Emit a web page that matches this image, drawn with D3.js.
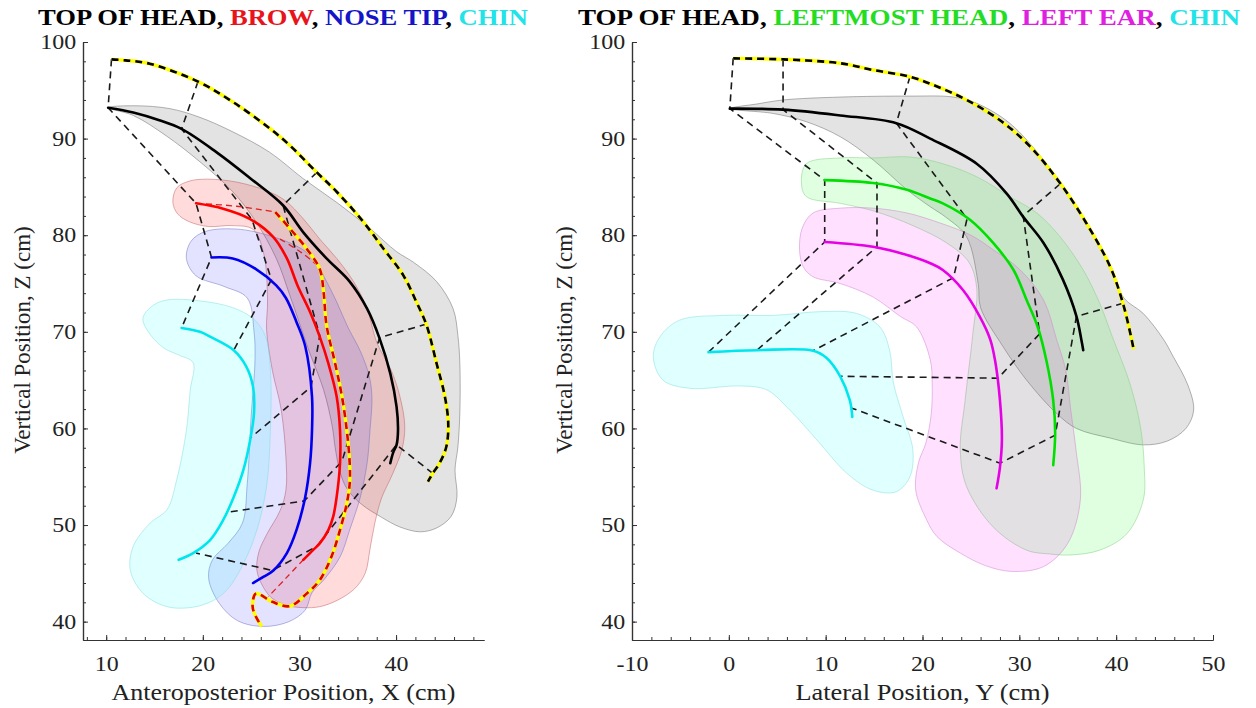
<!DOCTYPE html>
<html><head><meta charset="utf-8">
<script src="https://cdn.jsdelivr.net/npm/d3@7/dist/d3.min.js"></script>
<style>
html,body{margin:0;padding:0;background:#fff;}
svg{display:block;}
svg text{font-family:"Liberation Serif","Times New Roman",serif;}
</style></head><body>
<svg id="chart" width="1256" height="708" font-family="Liberation Serif, serif"></svg>
<script>
// ---------------- DATA ----------------
const leftXTicks = [10, 20, 30, 40];
const rightYTicks = [-10, 0, 10, 20, 30, 40, 50];
const zTicks = [40, 50, 60, 70, 80, 90, 100];
const leftTitleWords = ["TOP OF HEAD", "BROW", "NOSE TIP", "CHIN"];
const rightTitleWords = ["TOP OF HEAD", "LEFTMOST HEAD", "LEFT EAR", "CHIN"];
const leftXLabel = "Anteroposterior Position, X (cm)";
const rightXLabel = "Lateral Position, Y (cm)";
const zLabel = "Vertical Position, Z (cm)";

// Left panel: [X, Z]
const leftHead = [[10.2,93.2],[12.8,92.7],[15.5,91.9],[17.8,91.0],[21.4,88.6],[24.9,85.9],[28.3,83.1],[30.4,80.3],[32.8,77.6],[35.2,75.2],[37.0,72.4],[38.3,69.3],[39.4,65.7],[40.05,62.25],[40.2,59.8],[40.05,58.3],[39.7,57.5],[39.4,56.4]];
const leftHeadOuter = [[10.55,98.2],[12.0,98.1],[14.5,97.75],[19.5,95.9],[23.1,93.8],[27.0,91.0],[29.0,89.3],[31.8,86.5],[33.85,84.5],[36.6,81.4],[38.7,78.6],[40.75,75.85],[42.1,73.1],[43.15,70.7],[44.2,66.7],[45.05,63.3],[45.4,60.5],[45.2,58.1],[44.5,56.4],[43.8,55.35],[43.3,54.5]];
const leftBrow = [[19.3,83.3],[22.1,82.75],[24.85,81.7],[27.3,79.8],[28.7,77.6],[29.8,74.8],[31.1,72.05],[32.1,69.5],[33.0,66.7],[33.85,63.3],[34.2,59.8],[34.2,56.4],[33.85,52.9],[33.5,50.9],[33.0,49.5],[32.1,48.1],[31.4,47.4],[30.4,46.4]];
const leftBrowAlt = [[27.5,82.4],[29.0,80.7],[30.75,78.6],[32.1,76.5],[32.5,74.1],[32.8,70.7],[33.7,66.7],[34.4,63.3],[34.9,59.8],[35.2,56.4],[35.2,54.3],[34.9,52.25],[34.2,49.5],[33.3,46.7],[32.1,44.3],[30.75,42.9],[29.0,41.6],[27.2,42.05],[25.5,42.9],[25.15,41.6],[25.5,40.5],[26.1,39.5]];
const leftBrowThin = [
  [[19.3,83.3],[23.5,83.0],[27.5,82.4]],
  [[28.0,79.6],[30.2,78.2],[32.1,76.7]],
  [[30.4,46.4],[28.6,44.5],[26.8,42.6]]
];
const leftNose = [[20.9,77.7],[23.1,77.6],[25.5,76.5],[27.6,74.8],[28.6,73.5],[29.7,71.0],[30.6,68.5],[31.3,63.3],[31.3,59.8],[31.1,56.4],[30.6,52.9],[29.7,49.5],[28.7,47.1],[27.3,45.3],[26.3,44.65],[25.2,44.0]];
const leftChin = [[17.8,70.4],[19.7,70.0],[20.75,69.5],[23.2,68.1],[24.5,66.4],[25.2,64.3],[25.3,61.6],[24.9,58.8],[24.2,55.7],[23.2,52.9],[22.1,50.5],[20.75,48.45],[19.0,47.1],[17.5,46.4]];
const leftSync = [
  [[10.55,98.2],[10.2,93.2],[19.3,83.3],[20.9,77.7],[17.8,70.4]],
  [[19.5,95.9],[17.8,91.0],[25.1,81.6],[27.1,75.4],[23.2,68.1]],
  [[31.8,86.5],[28.3,83.1],[32.1,69.6],[31.2,64.3],[24.9,59.0]],
  [[43.15,70.8],[38.3,69.4],[34.4,56.6],[30.5,52.5],[22.4,51.3]],
  [[43.8,55.35],[40.05,58.3],[31.8,47.8],[27.2,45.3],[19.3,47.1]]
];
const leftHeadRegion = [[10.2,93.2],[13,93.4],[16.6,93.1],[19.7,92.2],[23.1,90.7],[26.9,88.6],[30.4,85.85],[33.85,83.4],[37.3,80.7],[40.05,78.3],[41.8,77.2],[44.2,75.2],[45.9,72.4],[46.4,69.6],[46.6,66.7],[46.6,61.6],[46.4,58.1],[46.1,55.7],[46.3,52.9],[45.7,50.9],[44.2,49.7],[42.5,49.3],[40.4,49.8],[38.5,50.8],[36.3,52.25],[34.9,53.8],[34.2,55.5],[33.7,58],[33.4,60.2],[32.5,64],[31.0,68],[29.0,73.8],[27.6,77.6],[25.5,81.4],[23.1,84.5],[19.7,87.6],[16.2,90.3],[12.8,92.4]];
const leftBrowRegion = [[16.9,83.4],[17.3,84.9],[18.6,85.6],[20.5,85.8],[23.5,85.5],[26.6,84.6],[28.5,83.6],[30.4,81.7],[32.1,79.6],[33.85,77.6],[35.6,75.2],[37.0,72.4],[38.0,68.9],[39.5,66],[40.4,63.3],[40.9,60.2],[40.6,57.8],[39.6,55.2],[38.5,52.8],[37.8,50.2],[37.3,47.5],[36.8,45.0],[35.7,43.4],[33.9,42.2],[32.1,41.55],[30.4,41.45],[28.6,41.7],[27.2,42.4],[26.3,43.5],[25.6,45.3],[25.8,47.2],[26.6,49],[28.0,51.5],[28.6,53.6],[28.6,57],[28.1,62],[27.2,66],[26.6,70.2],[26.7,73.3],[26.3,78.1],[25.2,80.6],[23.0,81.0],[20.6,80.9],[18.6,81.4],[17.4,82.2]];
const leftNoseRegion = [[18.3,77.6],[18.8,79.4],[20.3,80.4],[23.9,80.6],[28.0,79.6],[30.2,78.6],[31.5,77.5],[32.6,75.6],[33.85,73.1],[35.0,70.5],[36.3,68],[37.2,65.5],[37.5,63.3],[37.3,59.8],[37.0,56.4],[36.3,52.9],[35.2,49.5],[34.2,46.7],[32.5,44.3],[31.3,43.0],[30.6,41.2],[28.9,40.0],[26.3,39.5],[23.6,40.1],[21.7,41.9],[20.6,44.5],[21.0,46.4],[22.6,48.1],[24.1,50.2],[24.6,54.3],[25.0,61.2],[25.4,67.1],[25.3,70],[24.6,73.5],[22.2,74.7],[19.3,75.8]];
const leftChinRegion = [[13.8,71.4],[14.8,72.7],[16.3,73.3],[19.7,73.2],[23.1,72.5],[25.3,71.3],[26.5,69.5],[27.0,66],[27.0,60],[26.6,54],[25.6,49.5],[24.2,46],[22.6,43.4],[21.1,42.2],[19.0,41.5],[16.3,41.55],[13.85,42.9],[12.5,45.3],[12.8,47.8],[14.55,50.2],[16.3,51.6],[17.3,54.7],[18.3,59.8],[18.7,64],[19.0,66.8],[17.5,67.6],[16.0,68.3],[14.5,69.8]];

// Right panel: [Y, Z]
const rightHead = [[0.1,93.1],[5.6,93.0],[11.5,92.4],[17.3,91.6],[20.8,90.0],[25.6,87.4],[28.7,84.3],[30.4,81.9],[32.5,79.2],[34.5,75.4],[35.9,71.6],[36.4,69.2],[36.6,68.1]];
const rightHeadOuter = [[0.45,98.3],[5.6,98.2],[11.5,97.8],[14.9,97.1],[18.7,96.4],[21.5,95.4],[24.55,94.0],[28.0,91.9],[31.1,89.2],[34.2,85.4],[36.95,81.2],[39.4,76.7],[40.7,72.95],[41.6,69.2],[41.8,68.2]];
const rightLeftmost = [[9.9,85.7],[14.9,85.4],[18.4,84.7],[20.8,83.8],[22.1,83.3],[24.9,81.6],[27.3,79.2],[29.4,76.4],[30.75,73.3],[31.9,70.5],[32.8,67.0],[33.5,62.9],[33.7,59.5],[33.5,56.2]];
const rightEar = [[9.9,79.3],[14.9,78.8],[18.4,77.95],[20.8,77.1],[22.1,76.4],[24.2,74.3],[25.9,71.6],[27.0,69.2],[27.5,67.0],[28.0,62.9],[28.2,58.8],[28.0,56.0],[27.65,53.8]];
const rightChin = [[-2.1,67.9],[2.9,68.1],[8.7,68.05],[10.1,67.3],[11.5,65.4],[12.5,62.9],[12.75,61.2]];
const rightSync = [
  [[0.45,98.3],[0.1,93.1],[9.9,85.7],[9.9,79.3],[-2.1,67.9]],
  [[5.6,98.2],[5.6,93.0],[15.3,85.4],[15.3,78.8],[2.9,68.1]],
  [[18.7,96.4],[17.3,91.6],[24.6,81.7],[23.2,75.6],[8.7,68.05]],
  [[34.2,85.3],[30.4,82.0],[32.1,69.8],[27.8,65.2],[11.5,65.4]],
  [[40.7,72.95],[35.9,71.6],[33.7,59.3],[28.0,56.4],[12.7,62.1]]
];
const rightHeadRegion = [[0.1,93.1],[3,93.6],[5.6,94.0],[11.5,94.3],[18.7,94.4],[23.2,94.3],[25.6,93.65],[29.0,91.6],[32.5,87.8],[34.4,85.2],[37.0,81.3],[39.4,76.9],[40.8,73.5],[42.8,71.9],[44.9,69.2],[45.8,67.6],[47.4,64.5],[48.0,61.9],[47.2,60.0],[45.3,58.7],[42.8,58.3],[39.4,59.0],[35.9,60.0],[33.85,61.55],[30.75,65.0],[28.3,68.5],[26.0,72.5],[25.75,75.0],[24.55,79.85],[22.5,81.8],[20.8,82.95],[18.4,84.7],[14.9,87.8],[11.5,90.2],[8.0,91.75],[4.6,92.6]];
const rightLeftmostRegion = [[7.5,85.4],[8.0,87.4],[11.5,88.0],[14.9,88.0],[18.7,88.1],[22.1,87.4],[25.6,86.05],[29.0,84.0],[31.8,82.3],[34.2,79.85],[36.6,76.4],[38.3,72.95],[39.6,69.5],[41.4,64.7],[42.5,60.2],[42.9,56.0],[42.8,52.6],[41.1,49.1],[38.3,47.4],[35.2,46.9],[33.2,47.0],[30.75,47.4],[27.3,49.8],[24.55,54.0],[23.9,57.8],[24.4,62.9],[25.2,69.8],[25.6,74.5],[24.8,77.2],[22.5,79.2],[19,81],[15,82.5],[11.5,83.3],[8.0,84.0]];
const rightEarRegion = [[7.3,78.5],[7.6,80.8],[8.7,82.3],[11.5,82.8],[14.9,82.8],[18.4,82.3],[22,81.2],[25,80],[27.3,78.5],[30.1,76.4],[32.5,73.3],[33.85,69.2],[34.8,66],[35.3,62],[35.85,57.8],[36.3,52.6],[35.0,48.1],[32.5,45.7],[29.2,45.2],[26.5,45.8],[23.9,47.1],[21.5,48.8],[20.4,50.6],[19.3,53.6],[19.6,56.5],[20.35,58.5],[20.9,61.5],[21.0,64.7],[20.8,67.1],[19.4,70.5],[17.7,71.6],[14.9,73.6],[11.5,75.0],[8.7,75.7],[7.7,76.7]];
const rightChinRegion = [[-7.8,67.4],[-7.1,69.5],[-5.1,71.2],[-0.6,71.7],[4.6,71.7],[9.7,72.1],[13.2,71.9],[15.6,70.5],[16.6,68.1],[17.0,64.7],[18.0,61.2],[19.0,57.8],[18.7,55.0],[17.3,53.45],[14.9,53.6],[12.2,55.35],[9.1,58.8],[6.3,61.9],[3.9,64.0],[1.1,64.4],[-4.0,64.15],[-6.8,65.0]];

// ---------------- STYLE / LAYOUT ----------------
const C = {
  black:"#000000", red:"#ff0000", blue:"#0000f0", cyan:"#00e6ee", green:"#00e000", magenta:"#e600e6",
  tRed:"#e8141c", tBlue:"#1414c8", tCyan:"#22e4e8", tGreen:"#22dd22", tMag:"#e020e0",
  yellow:"#ffff00", dash:"#1a1a1a", axis:"#333333", text:"#222222"
};
const regionStyle = {
  gray:{fill:"#808080",op:0.22,stroke:"#6a6a6a"},
  red:{fill:"#ff2020",op:0.16,stroke:"#c06060"},
  blue:{fill:"#2a2aff",op:0.13,stroke:"#7070c0"},
  cyan:{fill:"#00ffff",op:0.12,stroke:"#80dede"},
  green:{fill:"#00ff00",op:0.12,stroke:"#80d080"},
  pink:{fill:"#ff00ff",op:0.12,stroke:"#d080d0"}
};
const SERIF = "Liberation Serif, Times New Roman, serif";
const TEXT_STRETCH = 1.14;

const svg = d3.select("#chart");
const zScale = d3.scaleLinear().domain([38.1, 100]).range([640, 42]);
const xLeft = d3.scaleLinear().domain([7.6, 49.1]).range([83, 484]);
const xRight = d3.scaleLinear().domain([-10, 50]).range([632, 1213]);

function drawPanel(xs, o) {
  const g = svg.append("g");
  const smooth = d3.line().x(d=>xs(d[0])).y(d=>zScale(d[1])).curve(d3.curveCatmullRom.alpha(0.5));
  const straight = d3.line().x(d=>xs(d[0])).y(d=>zScale(d[1]));
  const closed = d3.line().x(d=>xs(d[0])).y(d=>zScale(d[1])).curve(d3.curveCatmullRomClosed.alpha(0.5));

  // regions
  o.regions.forEach(([pts, st]) => {
    g.append("path").attr("d", closed(pts))
      .attr("fill", st.fill).attr("fill-opacity", st.op)
      .attr("stroke", st.stroke).attr("stroke-opacity", 0.5).attr("stroke-width", 1);
  });

  // axes
  const fmt = d => String(d);
  const xAxisMajor = d3.axisBottom(xs).tickValues(o.xTicks).tickSizeInner(-5).tickSizeOuter(0).tickPadding(16).tickFormat(fmt);
  const xAxisMinor = d3.axisBottom(xs).tickValues(o.xMinor).tickSizeInner(-3).tickSizeOuter(0).tickFormat("");
  const zAxisMajor = d3.axisLeft(zScale).tickValues(zTicks).tickSizeInner(-5).tickSizeOuter(0).tickPadding(6).tickFormat(fmt);
  const zAxisMinor = d3.axisLeft(zScale).tickValues(d3.range(40, 101, 2)).tickSizeInner(-3).tickSizeOuter(0).tickFormat("");
  const gx = g.append("g").attr("transform","translate(0,640)");
  gx.call(xAxisMinor); gx.append("g").call(xAxisMajor);
  const gz = g.append("g").attr("transform",`translate(${xs.range()[0]},0)`);
  gz.call(zAxisMinor); gz.append("g").call(zAxisMajor);
  [gx, gz].forEach(a => a.attr("font-family", SERIF).selectAll("g").attr("font-family", SERIF));
  g.selectAll(".domain").attr("stroke", C.axis).attr("stroke-width", 1.2);
  g.selectAll(".tick line").attr("stroke", C.axis).attr("stroke-width", 1);
  g.selectAll(".tick text").attr("font-family", SERIF).attr("font-size", 21).attr("fill", C.text)
    .attr("transform", `scale(${TEXT_STRETCH},1)`);

  // sync dashed lines
  o.sync.forEach(pts => {
    g.append("path").attr("d", straight(pts)).attr("fill","none")
      .attr("stroke", C.dash).attr("stroke-width", 1.6).attr("stroke-dasharray","7,5");
  });

  (o.thin || []).forEach(pts => {
    g.append("path").attr("d", smooth(pts)).attr("fill","none")
      .attr("stroke", "#dd2020").attr("stroke-width", 1.3).attr("stroke-dasharray","6,4");
  });

  // curves
  o.curves.forEach(([pts, col]) => {
    g.append("path").attr("d", smooth(pts)).attr("fill","none")
      .attr("stroke", col).attr("stroke-width", 2.6).attr("stroke-linecap","round").attr("stroke-linejoin","round");
  });

  // highlighted dashed curves
  o.dashed.forEach(([pts, col]) => {
    g.append("path").attr("d", smooth(pts)).attr("fill","none")
      .attr("stroke", C.yellow).attr("stroke-width", 3.4);
    g.append("path").attr("d", smooth(pts)).attr("fill","none")
      .attr("stroke", col).attr("stroke-width", 2.6).attr("stroke-dasharray","7,5");
  });

  // axis labels
  g.append("text").attr("x", (xs.range()[0]+xs.range()[1])/2).attr("y", 700)
    .attr("text-anchor","middle").attr("font-family", SERIF).attr("font-size", 23).attr("fill", C.text)
    .attr("textLength", o.xLabelW).attr("lengthAdjust","spacingAndGlyphs").text(o.xLabel);
  g.append("text").attr("transform",`translate(${o.zLabelX},340) rotate(-90)`)
    .attr("text-anchor","middle").attr("font-family", SERIF).attr("font-size", 23).attr("fill", C.text).text(zLabel);

  // title
  const t = g.append("text").attr("x", o.titleX).attr("y", 25).attr("text-anchor","middle")
    .attr("font-family", SERIF).attr("font-size", 24).attr("font-weight","bold")
    .attr("textLength", o.titleW).attr("lengthAdjust","spacingAndGlyphs");
  o.title.forEach((w, i) => {
    t.append("tspan").attr("fill", o.titleColors[i]).text(w);
    if (i < o.title.length - 1) t.append("tspan").attr("fill","#000").text(", ");
  });
}

drawPanel(xLeft, {
  regions: [[leftHeadRegion, regionStyle.gray],[leftBrowRegion, regionStyle.red],[leftNoseRegion, regionStyle.blue],[leftChinRegion, regionStyle.cyan]],
  xTicks: leftXTicks, xMinor: d3.range(8, 49, 2),
  sync: leftSync, thin: leftBrowThin,
  curves: [[leftHead, C.black],[leftBrow, C.red],[leftNose, C.blue],[leftChin, C.cyan]],
  dashed: [[leftHeadOuter, "#000"],[leftBrowAlt, "#e00000"]],
  xLabel: leftXLabel, xLabelW: 344, zLabelX: 30,
  title: leftTitleWords, titleColors: ["#000", C.tRed, C.tBlue, C.tCyan], titleX: 283, titleW: 490
});
drawPanel(xRight, {
  regions: [[rightHeadRegion, regionStyle.gray],[rightLeftmostRegion, regionStyle.green],[rightEarRegion, regionStyle.pink],[rightChinRegion, regionStyle.cyan]],
  xTicks: rightYTicks, xMinor: d3.range(-10, 51, 2),
  sync: rightSync, thin: [],
  curves: [[rightHead, C.black],[rightLeftmost, C.green],[rightEar, C.magenta],[rightChin, C.cyan]],
  dashed: [[rightHeadOuter, "#000"]],
  xLabel: rightXLabel, xLabelW: 254, zLabelX: 572,
  title: rightTitleWords, titleColors: ["#000", C.tGreen, C.tMag, C.tCyan], titleX: 909, titleW: 662
});
</script>
</body></html>
